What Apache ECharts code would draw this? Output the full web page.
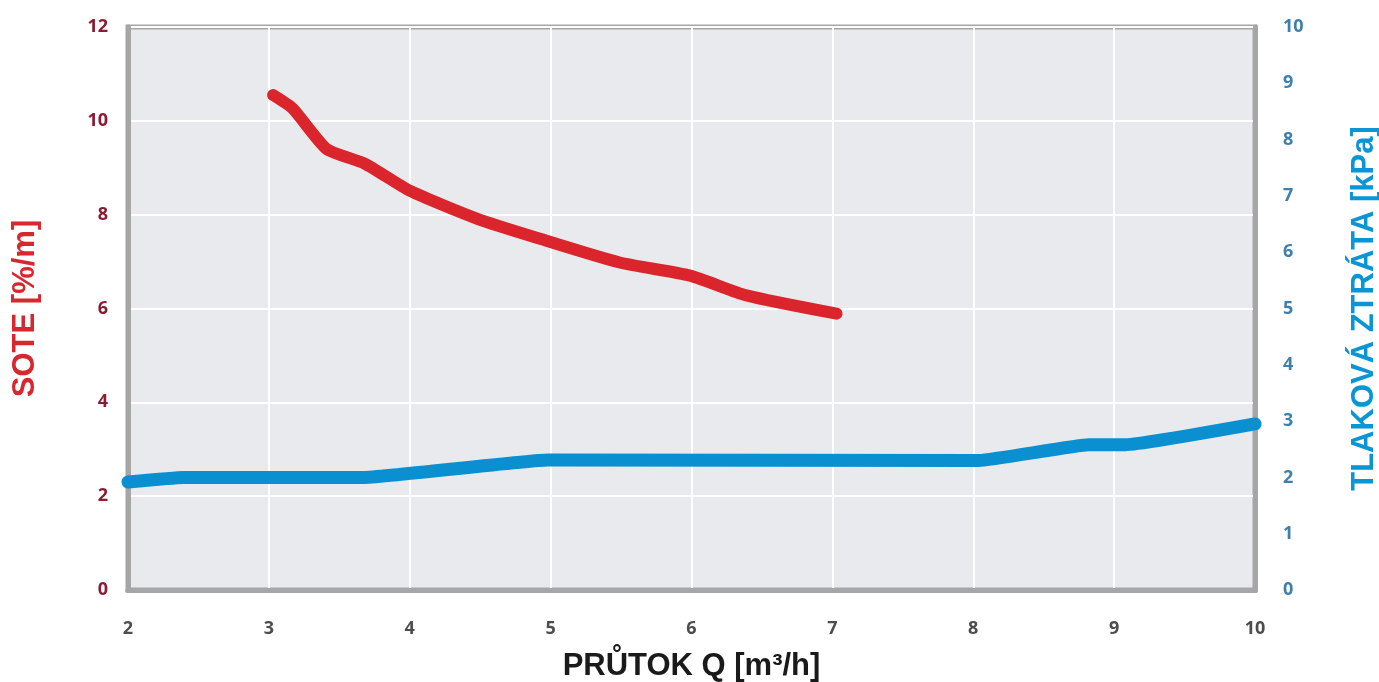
<!DOCTYPE html>
<html>
<head>
<meta charset="utf-8">
<script src="https://cdn.jsdelivr.net/npm/echarts@6/dist/echarts.min.js"></script>
<style>html,body{margin:0;padding:0;background:#fff;}#c{width:1379px;height:682px;}</style>
</head>
<body>
<div id="c"></div>
<script>
// Data
const soteX = [3.03, 3.17, 3.41, 3.68, 4.0, 4.48, 4.92, 5.49, 5.99, 6.39, 7.03];
const soteY = [10.55, 10.26, 9.40, 9.09, 8.51, 7.91, 7.49, 6.98, 6.70, 6.28, 5.89];
const lossX = [2.0, 2.39, 3.67, 4.98, 8.04, 8.82, 9.08, 10.0];
const lossY = [1.92, 2.0, 2.0, 2.31, 2.30, 2.58, 2.58, 2.95];
const xTitle = 'PRŮTOK Q [m³/h]';
const leftTitle = 'SOTE [%/m]';
const rightTitle = 'TLAKOVÁ ZTRÁTA [kPa]';

const zip = (xs, ys) => xs.map((x, i) => [x, ys[i]]);
const tickFont = {fontFamily: 'Open Sans', fontWeight: 'bold', fontSize: 18};
const titleFont = {fontFamily: 'Liberation Sans', fontWeight: 'bold', fontSize: 31};
const frame = {show: true, lineStyle: {color: '#a6a6a6', width: 5}};

const chart = echarts.init(document.getElementById('c'));
chart.setOption({
  animation: false,
  grid: {
    left: 128, right: 124, top: 27, bottom: 92,
    containLabel: false, outerBoundsMode: 'none',
    show: true, backgroundColor: '#e8eaed', borderColor: '#a6a6a6', borderWidth: 5
  },
  xAxis: [{
    type: 'value', min: 2, max: 10, interval: 1, position: 'bottom',
    name: xTitle, nameLocation: 'middle', nameGap: 61,
    nameTextStyle: Object.assign({color: '#1a1a1a'}, titleFont),
    axisLine: frame, axisTick: {show: false},
    axisLabel: Object.assign({color: '#4d4d4d', margin: 30}, tickFont),
    splitLine: {show: true, lineStyle: {color: '#ffffff', width: 2}}
  }, {
    type: 'value', min: 2, max: 10, interval: 1, position: 'top',
    axisLine: frame, axisTick: {show: false}, axisLabel: {show: false},
    splitLine: {show: false}
  }],
  yAxis: [{
    type: 'value', min: 0, max: 12, interval: 2, position: 'left',
    name: leftTitle, nameLocation: 'middle', nameGap: 87, nameRotate: 90,
    nameTextStyle: Object.assign({color: '#d7282f'}, titleFont),
    axisLine: frame, axisTick: {show: false},
    axisLabel: Object.assign({color: '#8b1c34', margin: 20}, tickFont),
    splitLine: {show: true, lineStyle: {color: '#ffffff', width: 2}}
  }, {
    type: 'value', min: 0, max: 10, interval: 1, position: 'right',
    name: rightTitle, nameLocation: 'middle', nameGap: 94, nameRotate: 90,
    nameTextStyle: Object.assign({color: '#0a96d6'}, titleFont),
    axisLine: frame, axisTick: {show: false},
    axisLabel: Object.assign({color: '#3f7fab', margin: 28}, tickFont),
    splitLine: {show: false}
  }],
  series: [{
    type: 'line', yAxisIndex: 0, data: zip(soteX, soteY),
    showSymbol: false, smooth: 0.2,
    lineStyle: {color: '#d9252b', width: 12, cap: 'round', join: 'round'}
  }, {
    type: 'line', yAxisIndex: 1, data: zip(lossX, lossY),
    showSymbol: false, smooth: 0.1,
    lineStyle: {color: '#0a8fd0', width: 13, cap: 'round', join: 'round'}
  }]
});
</script>
</body>
</html>
